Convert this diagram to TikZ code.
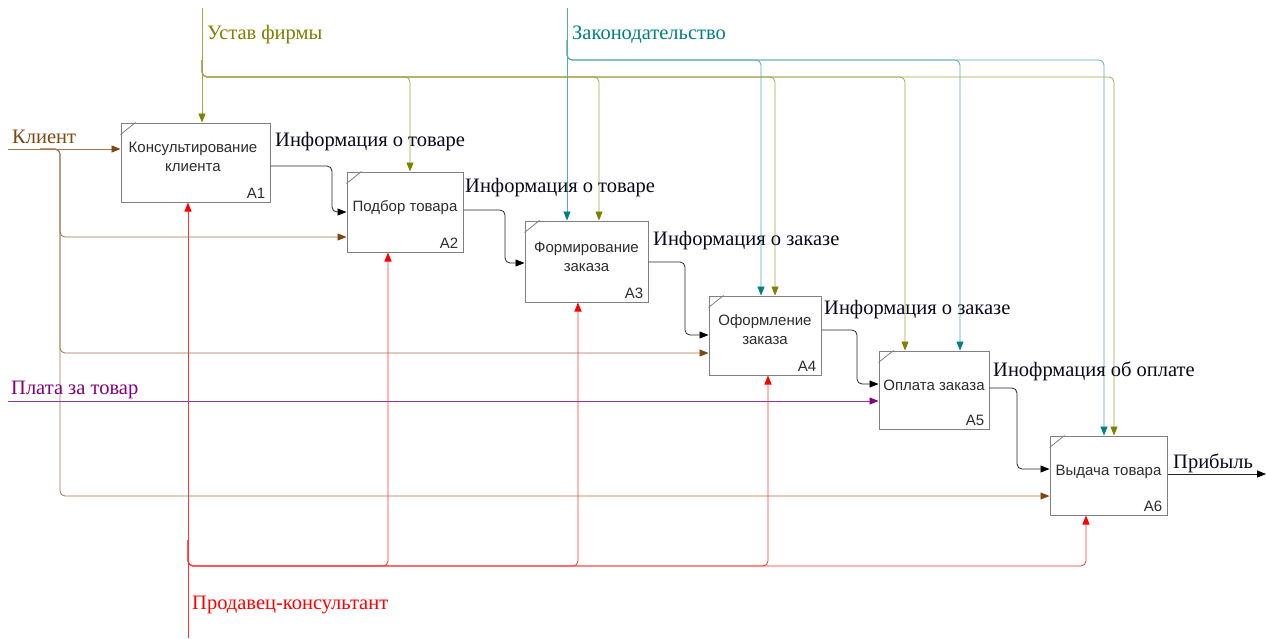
\documentclass[tikz,border=0pt]{standalone}
\usepackage{fontspec}
\setmainfont{Liberation Serif}
\newfontfamily\labelfont{Liberation Serif}
\newfontfamily\boxfont{Liberation Sans}
\usetikzlibrary{arrows.meta}

\definecolor{cOlive}{RGB}{128,128,0}
\definecolor{cTeal}{RGB}{0,128,128}
\definecolor{cBrown}{RGB}{128,72,16}
\definecolor{cPurple}{RGB}{128,0,128}
\definecolor{cRed}{RGB}{255,0,0}
\definecolor{cFrame}{RGB}{128,128,128}
\definecolor{cBoxText}{RGB}{45,45,45}
\definecolor{cLabel}{RGB}{10,10,30}

\tikzset{
  func/.style={draw=cFrame, line width=1pt, fill=white, inner sep=0pt},
  ftext/.style={inner sep=0pt, align=center, text=cBoxText,
                font=\boxfont\fontsize{15}{19}\selectfont},
  fnum/.style={anchor=south east, inner sep=0pt, text=cBoxText,
               font=\boxfont\fontsize{15}{16}\selectfont},
  arrowlabel/.style={anchor=west, inner sep=0pt,
                     font=\labelfont\fontsize{20.5}{22}\selectfont},
  flow/.style={line width=0.8pt, rounded corners=5pt},
  outflow/.style={flow, draw=black!85, -{Triangle[length=9pt,width=7pt,color=black]}},
  ctlA/.style={flow, draw=cOlive!70, -{Triangle[length=9pt,width=7pt,color=cOlive]}},
  ctlB/.style={flow, draw=cTeal!65, -{Triangle[length=9pt,width=7pt,color=cTeal]}},
  inflow/.style={flow, draw=cBrown!75, -{Triangle[length=9pt,width=7pt,color=cBrown]}},
  payflow/.style={flow, draw=cPurple!80, -{Triangle[length=9pt,width=7pt,color=cPurple]}},
  mechflow/.style={flow, draw=cRed!80, -{Triangle[length=9pt,width=7pt,color=cRed]}},
}

% draw a function box with its corner tick and number
\newcommand{\funcbox}[6]{% name, center x, center y, width, height, number
  \node[func, minimum width=#4pt, minimum height=#5pt] (#1) at (#2,#3) {};
  \draw[cFrame, line width=0.8pt] ([yshift=-12pt]#1.north west) -- ([xshift=15pt]#1.north west);
  \node[fnum] (#1n) at ([xshift=-5pt,yshift=4pt]#1.south east) {#6};
}

\begin{document}
\begin{tikzpicture}[x=1pt, y=-1pt]
\useasboundingbox[fill=white] (0,0) rectangle (1267,638);

% ---------- free ends ----------
\coordinate (ustavTop) at (202,8);
\coordinate (lawTop) at (567,8);
\coordinate (clientEnd) at (8,149);
\coordinate (payEnd) at (8,401);
\coordinate (sellerEnd) at (188,638);
\coordinate (profitEnd) at (1266,474);

% ---------- function boxes ----------
\funcbox{a1}{195.5}{162.5}{149}{79}{A1}
\funcbox{a2}{405}{212}{116}{80}{A2}
\funcbox{a3}{586.5}{261.5}{123}{81}{A3}
\funcbox{a4}{765}{335.5}{112}{79}{A4}
\funcbox{a5}{934}{390}{110}{78}{A5}
\funcbox{a6}{1108.5}{475.5}{117}{79}{A6}

\node[ftext] (a1t) at (193,157) {Консультирование\\клиента};
\node[ftext] (a2t) at (405,208) {Подбор товара};
\node[ftext] (a3t) at (586.5,257) {Формирование\\заказа};
\node[ftext] (a4t) at (765,330) {Оформление\\заказа};
\node[ftext] (a5t) at (934,385) {Оплата заказа};
\node[ftext] (a6t) at (1108.5,472) {Выдача товара};

% ---------- controls: Устав фирмы ----------
\draw[ctlA] (ustavTop) -- (202,0 |- a1.north);
\draw[ctlA] (202,60) |- (410,77) -- (410,0 |- a2.north);
\draw[ctlA] (202,60) |- (599,77) -- (599,0 |- a3.north);
\draw[ctlA] (202,60) |- (775,77) -- (775,0 |- a4.north);
\draw[ctlA] (202,60) |- (905,77) -- (905,0 |- a5.north);
\draw[ctlA] (202,60) |- (1114,77) -- (1114,0 |- a6.north);

% ---------- controls: Законодательство ----------
\draw[ctlB] (lawTop) -- (567,0 |- a3.north);
\draw[ctlB] (567,40) |- (761,60) -- (761,0 |- a4.north);
\draw[ctlB] (567,40) |- (960,60) -- (960,0 |- a5.north);
\draw[ctlB] (567,40) |- (1104,60) -- (1104,0 |- a6.north);

% ---------- inputs ----------
\draw[inflow] (clientEnd) -- (0,149 -| a1.west);
\draw[inflow] (40,149) -| (60,237) -- (0,237 -| a2.west);
\draw[inflow] (40,149) -| (60,353) -- (0,353 -| a4.west);
\draw[inflow] (40,149) -| (60,496) -- (0,496 -| a6.west);
\draw[payflow] (payEnd) -- (0,401 -| a5.west);

% ---------- mechanism: Продавец-консультант ----------
\draw[mechflow] (sellerEnd) -- (188,0 |- a1.south);
\draw[mechflow] (188,540) |- (388,566) -- (388,0 |- a2.south);
\draw[mechflow] (188,540) |- (578,566) -- (578,0 |- a3.south);
\draw[mechflow] (188,540) |- (768,566) -- (768,0 |- a4.south);
\draw[mechflow] (188,540) |- (1086,566) -- (1086,0 |- a6.south);

% ---------- outputs ----------
\draw[outflow] (a1.east |- 0,166) -| (332,212) -- (a2.west |- 0,212);
\draw[outflow] (a2.east |- 0,210) -| (505,263) -- (a3.west |- 0,263);
\draw[outflow] (a3.east |- 0,262) -| (685,335) -- (a4.west |- 0,335);
\draw[outflow] (a4.east |- 0,330) -| (857,384) -- (a5.west |- 0,384);
\draw[outflow] (a5.east |- 0,388) -| (1017,469) -- (a6.west |- 0,469);
\draw[outflow] (a6.east |- 0,474) -- (profitEnd);

% ---------- arrow labels ----------
\node[arrowlabel, text=cOlive] (lUstav) at (207,35) {Устав фирмы};
\node[arrowlabel, text=cTeal] (lLaw) at (572,35) {Законодательство};
\node[arrowlabel, text=cBrown] (lClient) at (12,137) {Клиент};
\node[arrowlabel, text=cPurple] (lPay) at (11,390) {Плата за товар};
\node[arrowlabel, text=cRed] (lSeller) at (192,605) {Продавец-консультант};

\node[arrowlabel, text=cLabel] (o1) at (275,142) {Информация о товаре};
\node[arrowlabel, text=cLabel] (o2) at (465,188) {Информация о товаре};
\node[arrowlabel, text=cLabel] (o3) at (653,241) {Информация о заказе};
\node[arrowlabel, text=cLabel] (o4) at (824,310) {Информация о заказе};
\node[arrowlabel, text=cLabel] (o5) at (993,371) {Инофрмация об оплате};
\node[arrowlabel, text=cLabel] (o6) at (1173,463) {Прибыль};
\end{tikzpicture}
\end{document}
